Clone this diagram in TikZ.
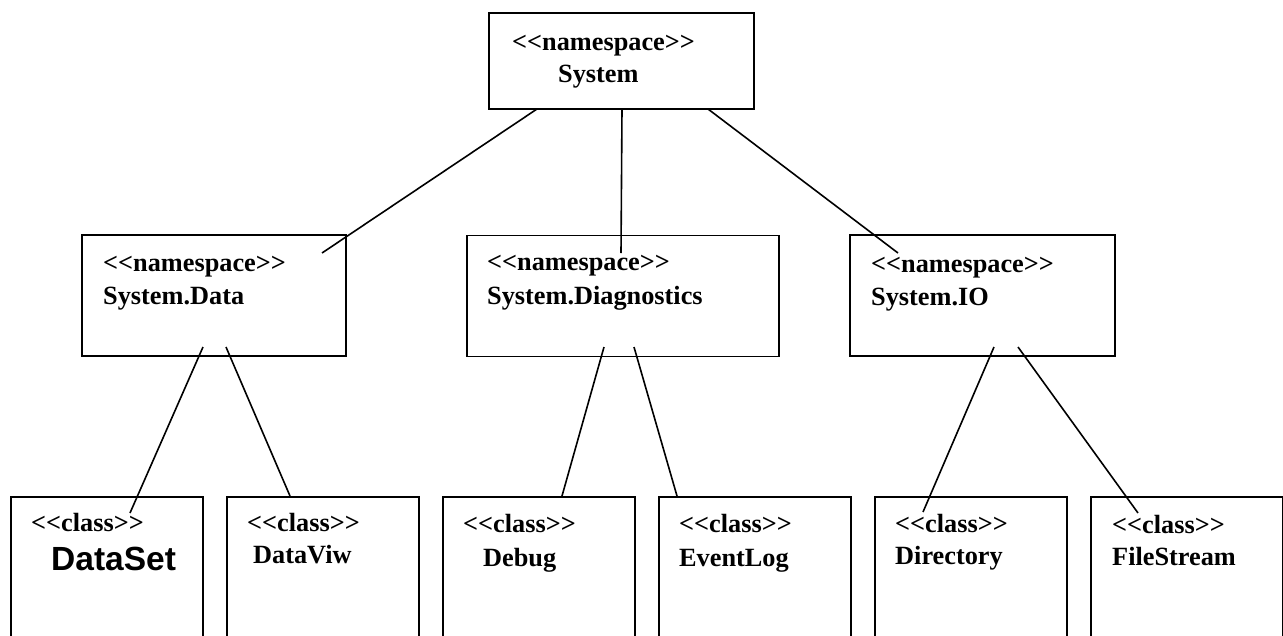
\documentclass[tikz,border=0pt]{standalone}
\usepackage{fontspec}
\setmainfont{Liberation Serif}
\newfontfamily\boldsans{Liberation Sans}
% stereotype text; the kern keeps << and >> from turning into guillemets
\newcommand\stereo[1]{<\kern0pt<#1>\kern0pt>}
\begin{document}
\begin{tikzpicture}[x=1pt,y=-1pt,
  box/.style={draw, line width=1.8pt, inner sep=0pt},
  pkgbox/.style={box, minimum height=121pt},
  clsbox/.style={box, minimum width=192pt, minimum height=200pt, anchor=north west},
  lbl/.style={anchor=base west, inner sep=0pt, font=\fontsize{26.3}{30}\selectfont\bfseries},
  big/.style={anchor=base west, inner sep=0pt, font=\fontsize{33.5}{38}\selectfont\boldsans\bfseries},
  link/.style={line width=1.6pt}]
\useasboundingbox (0,0) rectangle (1283,635);
\clip (0,0) rectangle (1283,635);

% namespaces
\node[box, minimum width=265pt, minimum height=96pt] (sys) at (621.5,61) {};
\node[pkgbox, minimum width=264pt] (data) at (214,295.5) {};
\node[pkgbox, minimum width=312pt] (diag) at (623,296) {};
\node[pkgbox, minimum width=265pt] (io) at (982.5,295.5) {};

% classes
\node[clsbox] (dataset) at (10,496) {};
\node[clsbox] (dataviw) at (226,496) {};
\node[clsbox] (debug) at (442,496) {};
\node[clsbox] (eventlog) at (658,496) {};
\node[clsbox] (directory) at (874,496) {};
\node[clsbox] (filestream) at (1090,496) {};

% labels
\node[lbl] (t-sys1) at (512,50) {\stereo{namespace}};
\node[lbl] (t-sys2) at (558,82) {System};
\node[lbl] (t-data1) at (103,271) {\stereo{namespace}};
\node[lbl] (t-data2) at (103,304) {System.Data};
\node[lbl] (t-diag1) at (487,270) {\stereo{namespace}};
\node[lbl] (t-diag2) at (487,304) {System.Diagnostics};
\node[lbl] (t-io1) at (871,272) {\stereo{namespace}};
\node[lbl] (t-io2) at (871,305) {System.IO};

\node[lbl] (t-ds1) at (31,531) {\stereo{class}};
\node[big] (t-ds2) at (51,570) {DataSet};
\node[lbl] (t-dv1) at (247,531) {\stereo{class}};
\node[lbl] (t-dv2) at (253,563) {DataViw};
\node[lbl] (t-db1) at (463,532) {\stereo{class}};
\node[lbl] (t-db2) at (483,566) {Debug};
\node[lbl] (t-el1) at (679,532) {\stereo{class}};
\node[lbl] (t-el2) at (679,566) {EventLog};
\node[lbl] (t-dir1) at (895,532) {\stereo{class}};
\node[lbl] (t-dir2) at (895,564) {Directory};
\node[lbl] (t-fs1) at (1112,533) {\stereo{class}};
\node[lbl] (t-fs2) at (1112,565) {FileStream};

% connector end points
\coordinate (s1) at (537,109);
\coordinate (s2) at (622,109);
\coordinate (s3) at (708,109);
\coordinate (d-in) at (322,253);
\coordinate (g-in) at (621,253);
\coordinate (i-in) at (898,253);
\coordinate (d1) at (203,347);
\coordinate (d2) at (226,347);
\coordinate (g1) at (604,347);
\coordinate (g2) at (634,347);
\coordinate (i1) at (994,347);
\coordinate (i2) at (1018,347);
\coordinate (ds-in) at (130,513);
\coordinate (dv-in) at (290,496);
\coordinate (db-in) at (562,496);
\coordinate (el-in) at (677,496);
\coordinate (dir-in) at (923,512);
\coordinate (fs-in) at (1138,513);

% connectors
\draw[link] (s1) -- (d-in);
\draw[link] (s2) -- (g-in);
\draw[link] (s3) -- (i-in);
\draw[link] (d1) -- (ds-in);
\draw[link] (d2) -- (dv-in);
\draw[link] (g1) -- (db-in);
\draw[link] (g2) -- (el-in);
\draw[link] (i1) -- (dir-in);
\draw[link] (i2) -- (fs-in);
\end{tikzpicture}
\end{document}
